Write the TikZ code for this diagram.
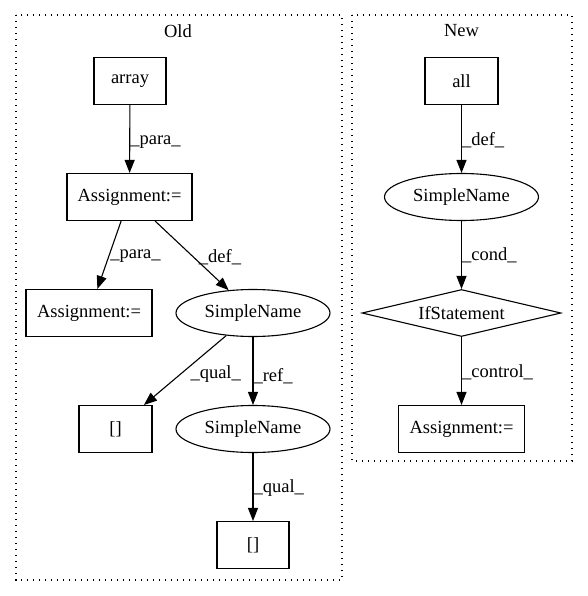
\documentclass[tikz,border=0pt]{standalone}
\usepackage{fontspec}
\setmainfont{Liberation Serif}
\usepackage{tikz}
\usetikzlibrary{shapes.geometric,arrows.meta}

\begin{document}
\begin{tikzpicture}[x=1pt,y=-1pt,
            font=\fontsize{18.5}{22}\selectfont,
            box/.style={draw,rectangle,minimum height=47pt,inner sep=0pt,line width=1.1pt},
            oval/.style={draw,ellipse,minimum width=154pt,minimum height=47pt,inner sep=0pt,line width=1.1pt},
            cond/.style={draw,diamond,aspect=5,minimum width=199pt,minimum height=47pt,inner sep=0pt,line width=1.1pt},
            edge/.style={-{Triangle[length=13pt,width=10pt]},line width=1.1pt},
            lbl/.style={anchor=west,inner sep=0pt},
            cluster/.style={dash pattern=on 1.3pt off 4.7pt,line width=1.2pt}]
            \useasboundingbox (0,0) rectangle (587,596);

            % old
            \draw [cluster] (16,15) rectangle (342,580);
            \node (oldlabel) at (178,31) {Old};
            \node [box,minimum width=72pt] (array) at (130,81) {array};
            \node [box,minimum width=125pt] (asgtop) at (129.5,197) {Assignment:=};
            \node [box,minimum width=126pt] (asgleft) at (89,313) {Assignment:=};
            \node [oval] (sname1) at (253,313) {SimpleName};
            \node [box,minimum width=73pt] (idx1) at (115.5,429) {[]};
            \node [oval] (sname2) at (253,429) {SimpleName};
            \node [box,minimum width=72pt] (idx2) at (253,545) {[]};

            \draw [edge] (array) -- node[lbl,pos=.55] {\_para\_} (asgtop);
            \draw [edge] (asgtop) -- node[lbl,pos=.52,xshift=1pt] {\_para\_} (asgleft);
            \draw [edge] (asgtop) -- node[lbl,pos=.52,xshift=5pt] {\_def\_} (sname1);
            \draw [edge] (sname1) -- node[lbl,pos=.55,xshift=9pt] {\_qual\_} (idx1);
            \draw [edge] (sname1) -- node[lbl,pos=.58] {\_ref\_} (sname2);
            \draw [edge] (sname2) -- node[lbl,pos=.52] {\_qual\_} (idx2);

            % new
            \draw [cluster] (352,15) rectangle (572,461);
            \node (newlabel) at (461.5,31) {New};
            \node [box,minimum width=73pt] (all) at (461.5,81) {all};
            \node [oval] (sname3) at (461.5,197) {SimpleName};
            \node [cond] (ifst) at (461.5,313) {IfStatement};
            \node [box,minimum width=126pt] (asgnew) at (461.5,429) {Assignment:=};

            \draw [edge] (all) -- node[lbl,pos=.52] {\_def\_} (sname3);
            \draw [edge] (sname3) -- node[lbl,pos=.5] {\_cond\_} (ifst);
            \draw [edge] (ifst) -- node[lbl,pos=.52] {\_control\_} (asgnew);
        \end{tikzpicture}
\end{document}
